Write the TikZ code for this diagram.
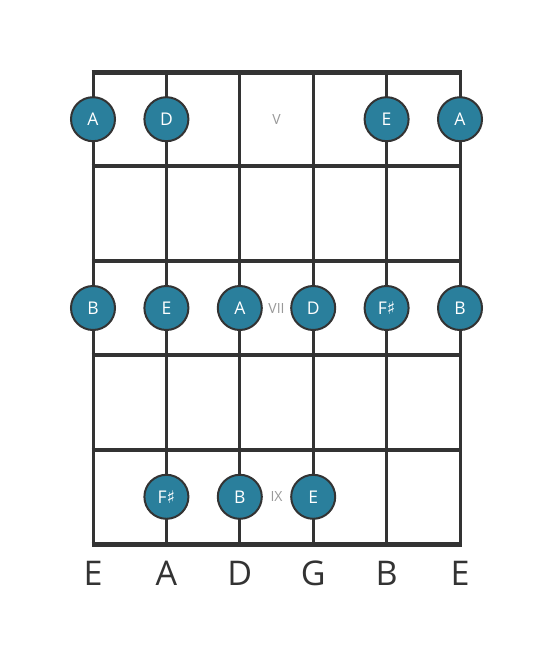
\documentclass[tikz,border=0pt]{standalone}
\usepackage{fontspec}
\setmainfont{Open Sans}
\newfontfamily\symfont{DejaVu Sans}
\definecolor{dotfill}{HTML}{2A7F9C}
\definecolor{ink}{HTML}{333333}
\definecolor{numgray}{HTML}{999999}
\tikzset{
  note/.style={circle, draw=ink, line width=2pt, fill=dotfill, minimum size=44pt, inner sep=0pt, text=white, font=\fontsize{17.5}{17.5}\selectfont},
  fretnum/.style={text=numgray, font=\fontsize{14}{14}\selectfont, inner sep=0pt},
  strname/.style={text=ink, font=\fontsize{34}{34}\selectfont, inner sep=0pt},
  stringline/.style={draw=ink, line width=3pt},
  fretline/.style={draw=ink, line width=4pt},
  nutline/.style={draw=ink, line width=5pt},
}
\newcommand{\shp}{{\symfont\char"266F}}
\begin{document}
\begin{tikzpicture}[x=1pt,y=-1pt]
\useasboundingbox[fill=white] (0,0) rectangle (553,656);
% string coordinates
\foreach \i/\x in {1/93,2/166.4,3/239.8,4/313.2,5/386.6,6/460}{
  \coordinate (t\i) at (\x,72);
  \coordinate (b\i) at (\x,544);
}
\foreach \i in {1,...,6}{ \draw[stringline] (t\i) -- (b\i); }
% frets
\foreach \j/\y in {1/166.4,2/260.8,3/355.2,4/449.6}{
  \coordinate (fl\j) at (93,\y);
  \coordinate (fr\j) at (460,\y);
  \draw[fretline] ([xshift=-1.5pt]fl\j) -- ([xshift=1.5pt]fr\j);
}
\draw[nutline] ([xshift=-1.5pt]t1) -- ([xshift=1.5pt]t6);
\draw[nutline] ([xshift=-1.5pt]b1) -- ([xshift=1.5pt]b6);
% fret row 5
\node[note] (n1) at (93,119.2) {A};
\node[note] (n2) at (166.4,119.2) {D};
\node[fretnum] (v5) at (276.5,119.2) {V};
\node[note] (n3) at (386.6,119.2) {E};
\node[note] (n4) at (460,119.2) {A};
% fret row 7
\node[note] (n5) at (93,308) {B};
\node[note] (n6) at (166.4,308) {E};
\node[note] (n7) at (239.8,308) {A};
\node[fretnum] (v7) at (276.5,308) {VII};
\node[note] (n8) at (313.2,308) {D};
\node[note] (n9) at (386.6,308) {F\shp};
\node[note] (n10) at (460,308) {B};
% fret row 9
\node[note] (n11) at (166.4,496.8) {F\shp};
\node[note] (n12) at (239.8,496.8) {B};
\node[fretnum] (v9) at (276.5,496.8) {IX};
\node[note] (n13) at (313.2,496.8) {E};
% string names
\foreach \i/\x/\s in {1/93/E,2/166.4/A,3/239.8/D,4/313.2/G,5/386.6/B,6/460/E}{
  \node[strname] (s\i) at (\x,573) {\s};
}
\end{tikzpicture}
\end{document}
